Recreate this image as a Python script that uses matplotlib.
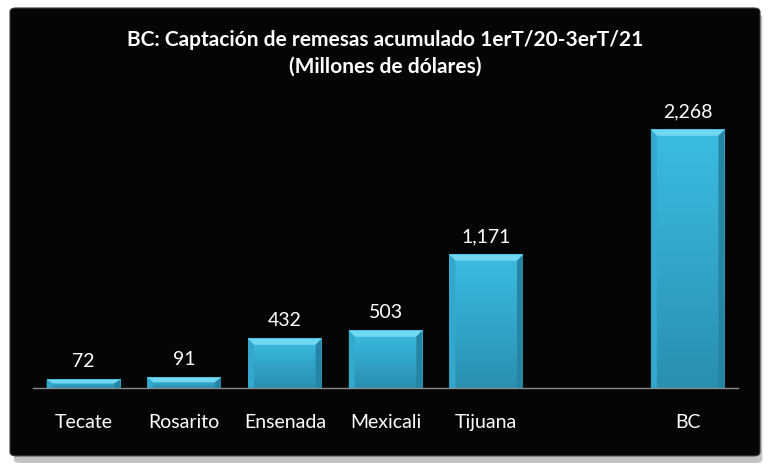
import numpy as np
import matplotlib.pyplot as plt
from matplotlib.colors import LinearSegmentedColormap
from matplotlib.patches import FancyBboxPatch, Polygon

# Datos (millones de dólares)
municipios = ["Tecate", "Rosarito", "Ensenada", "Mexicali", "Tijuana", "", "BC"]
remesas = [72, 91, 432, 503, 1171, np.nan, 2268]
etiquetas = ["72", "91", "432", "503", "1,171", "", "2,268"]

titulo = "BC: Captación de remesas acumulado 1erT/20-3erT/21\n(Millones de dólares)"

plt.rcParams['font.family'] = ['Lato', 'DejaVu Sans']

fig = plt.figure(figsize=(7.7, 4.7), dpi=100)
fig.patch.set_facecolor("white")

# Panel negro con sombra
sombra = FancyBboxPatch((0.018, 0.015), 0.972, 0.955, boxstyle="round,pad=0,rounding_size=0.008",
                        transform=fig.transFigure, facecolor="#9a9a9a", edgecolor="none",
                        alpha=0.6, zorder=-10)
panel = FancyBboxPatch((0.013, 0.03), 0.974, 0.953, boxstyle="round,pad=0,rounding_size=0.008",
                       transform=fig.transFigure, facecolor="#050505", edgecolor="#3a3a3a",
                       lw=0.8, zorder=-9)
fig.patches.extend([sombra, panel])

ax = fig.add_axes([0.0429, 0.1745, 0.9156, 0.6128])
ax.set_facecolor("none")

x = np.arange(len(municipios))
ancho = 0.73
barras = ax.bar(x, np.nan_to_num(remesas), width=ancho, color="#36afd3", edgecolor="none", zorder=2)

ymax = 2530

# Bisel de las barras
ax_w = 0.9156 * 770
ax_h = 0.6128 * 470
bx = 6 / ax_w * len(municipios)
by = 6 / ax_h * ymax
cmap = LinearSegmentedColormap.from_list("g", ["#2a8fb0", "#3bbde2"])
for b, v in zip(barras, remesas):
    if np.isnan(v):
        continue
    x0, w, h = b.get_x(), b.get_width(), b.get_height()
    x1 = x0 + w
    dy = min(by, h * 0.45)
    grad = np.linspace(0, 1, 100).reshape(-1, 1)
    ax.imshow(grad, extent=[x0, x1, 0, h], aspect="auto", origin="lower", cmap=cmap, zorder=2.1)
    ax.add_patch(Polygon([[x0, h], [x1, h], [x1 - bx, h - dy], [x0 + bx, h - dy]],
                         closed=True, facecolor="#72d8f2", edgecolor="none", zorder=3))
    ax.add_patch(Polygon([[x0, 0], [x0, h], [x0 + bx, h - dy], [x0 + bx, 0]],
                         closed=True, facecolor="#33a8cc", edgecolor="none", zorder=3))
    ax.add_patch(Polygon([[x1, 0], [x1, h], [x1 - bx, h - dy], [x1 - bx, 0]],
                         closed=True, facecolor="#2585a5", edgecolor="none", zorder=3))

ax.set_xlim(-0.5, len(municipios) - 0.5)
ax.set_ylim(0, ymax)

for xi, v, et in zip(x, remesas, etiquetas):
    if np.isnan(v):
        continue
    ax.text(xi, v + 85, et, ha="center", va="bottom", color="white", fontsize=14)

ax.set_xticks(x)
ax.set_xticklabels(municipios, color="white", fontsize=14)
ax.tick_params(axis="x", length=0, pad=19)
ax.set_yticks([])
for s in ["top", "left", "right"]:
    ax.spines[s].set_visible(False)
ax.spines["bottom"].set_color("#8a8a8a")
ax.spines["bottom"].set_linewidth(1)

fig.text(0.5, 0.887, titulo, ha="center", va="center", color="white", fontsize=15,
         fontweight="bold", linespacing=1.45)

fig.savefig("out.png", dpi=100, facecolor=fig.get_facecolor())
